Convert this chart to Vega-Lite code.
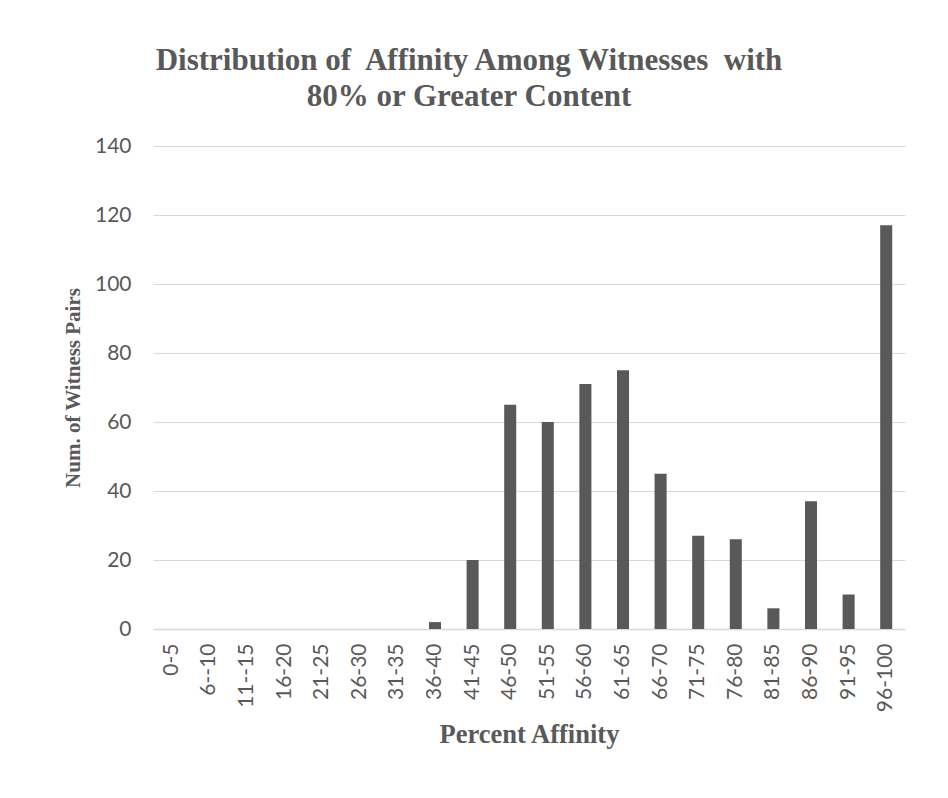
{
  "$schema": "https://vega.github.io/schema/vega-lite/v6.json",
  "width": 752,
  "height": 483,
  "autosize": {"type": "none"},
  "padding": {"left": 153, "top": 146, "right": 43, "bottom": 169},
  "background": "#ffffff",
  "title": {
    "text": ["Distribution of\u00a0 Affinity Among Witnesses\u00a0 with", "80% or Greater Content"],
    "anchor": "middle",
    "dx": -60,
    "offset": 22,
    "font": "Liberation Serif",
    "fontSize": 31,
    "fontWeight": "bold",
    "color": "#595959",
    "lineHeight": 36
  },
  "data": {
    "values": [
      {"range": "0-5", "pairs": 0},
      {"range": "6--10", "pairs": 0},
      {"range": "11--15", "pairs": 0},
      {"range": "16-20", "pairs": 0},
      {"range": "21-25", "pairs": 0},
      {"range": "26-30", "pairs": 0},
      {"range": "31-35", "pairs": 0},
      {"range": "36-40", "pairs": 2},
      {"range": "41-45", "pairs": 20},
      {"range": "46-50", "pairs": 65},
      {"range": "51-55", "pairs": 60},
      {"range": "56-60", "pairs": 71},
      {"range": "61-65", "pairs": 75},
      {"range": "66-70", "pairs": 45},
      {"range": "71-75", "pairs": 27},
      {"range": "76-80", "pairs": 26},
      {"range": "81-85", "pairs": 6},
      {"range": "86-90", "pairs": 37},
      {"range": "91-95", "pairs": 10},
      {"range": "96-100", "pairs": 117}
    ]
  },
  "mark": {"type": "bar", "color": "#595959"},
  "encoding": {
    "x": {
      "field": "range",
      "type": "nominal",
      "sort": null,
      "scale": {"paddingInner": 0.68, "paddingOuter": 0.34},
      "axis": {
        "title": "Percent Affinity",
        "titleFont": "Liberation Serif",
        "titleFontSize": 26.5,
        "titleFontWeight": "bold",
        "titleColor": "#595959",
        "titlePadding": 10,
        "labelAngle": -90,
        "labelFont": "Lato",
        "labelFontSize": 21,
        "labelColor": "#595959",
        "labelPadding": 14,
        "ticks": false,
        "tickSize": 0,
        "domainColor": "#d9d9d9",
        "domainWidth": 1.5,
        "grid": false
      }
    },
    "y": {
      "field": "pairs",
      "type": "quantitative",
      "scale": {"domain": [0, 140]},
      "axis": {
        "title": "Num. of Witness Pairs",
        "titleFont": "Liberation Serif",
        "titleFontSize": 21,
        "titleFontWeight": "bold",
        "titleColor": "#595959",
        "titlePadding": 11,
        "values": [0, 20, 40, 60, 80, 100, 120, 140],
        "labelFont": "Lato",
        "labelFontSize": 21,
        "labelColor": "#595959",
        "labelPadding": 22,
        "ticks": false,
        "tickSize": 0,
        "domain": false,
        "grid": true,
        "gridColor": "#d9d9d9",
        "gridWidth": 1
      }
    }
  },
  "config": {
    "view": {"stroke": null}
  }
}
